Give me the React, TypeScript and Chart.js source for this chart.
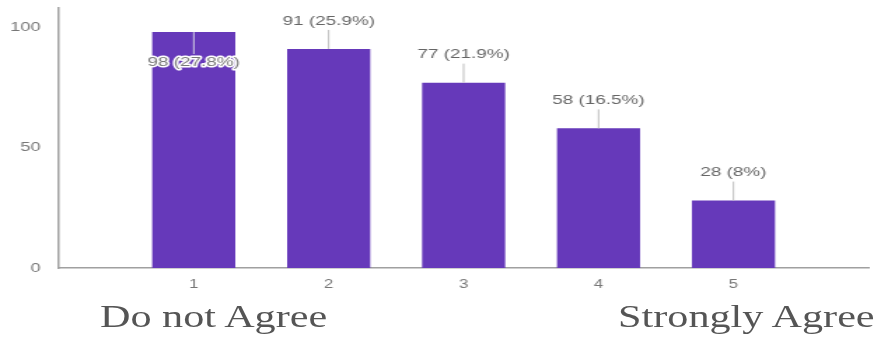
import React, { useEffect, useRef } from "react";
import { Chart, registerables } from "chart.js";

Chart.register(...registerables);

const categories = [1, 2, 3, 4, 5];
const counts = [98, 91, 77, 58, 28];
const percents = ["27.8", "25.9", "21.9", "16.5", "8"];
const yTicks = [0, 50, 100];
const leftLabel = "Do not Agree";
const rightLabel = "Strongly Agree";

const INTERNAL_W = 629;
const H = 341;

const labelPlugin = {
  id: "barLabels",
  afterDatasetsDraw(chart: any) {
    const ctx = chart.ctx;
    const meta = chart.getDatasetMeta(0);
    const area = chart.chartArea;
    ctx.save();
    ctx.font = "13.5px 'Liberation Sans', Arial, sans-serif";
    ctx.textAlign = "center";
    ctx.textBaseline = "middle";
    meta.data.forEach((el: any, i: number) => {
      const text = `${counts[i]} (${percents[i]}%)`;
      const x = el.x;
      const top = el.y;
      const inside = top - 36 < area.top;
      ctx.lineWidth = 1;
      if (inside) {
        ctx.strokeStyle = "rgba(220,220,230,0.9)";
        ctx.beginPath();
        ctx.moveTo(x, top);
        ctx.lineTo(x, top + 22);
        ctx.stroke();
        const ty = top + 30;
        ctx.lineWidth = 3;
        ctx.strokeStyle = "#ffffff";
        ctx.lineJoin = "round";
        ctx.strokeText(text, x, ty);
        ctx.fillStyle = "#7a7a7a";
        ctx.fillText(text, x, ty);
      } else {
        ctx.strokeStyle = "#bdbdbd";
        ctx.beginPath();
        ctx.moveTo(x, top - 19);
        ctx.lineTo(x, top);
        ctx.stroke();
        ctx.fillStyle = "#666666";
        ctx.fillText(text, x, top - 28);
      }
    });
    ctx.restore();
  },
};

export default function App() {
  const ref = useRef<HTMLCanvasElement>(null);

  useEffect(() => {
    document.body.style.margin = "0";
    const canvas = ref.current!;
    const chart = new Chart(canvas, {
      type: "bar",
      data: {
        datasets: [
          {
            data: categories.map((c, i) => ({ x: c, y: counts[i] })),
            backgroundColor: "#6639ba",
            borderWidth: 0,
            barPercentage: 0.616,
            categoryPercentage: 1,
          },
        ],
      },
      options: {
        responsive: false,
        devicePixelRatio: 1,
        animation: false,
        layout: { padding: { top: 8, right: 9, left: 0, bottom: 0 } },
        plugins: {
          legend: { display: false },
          tooltip: { enabled: false },
        },
        scales: {
          x: {
            type: "linear",
            offset: false,
            min: 0,
            max: 6,
            grid: { display: false, drawTicks: false, offset: false },
            border: { display: true, color: "#a0a0a0", width: 1.5 },
            ticks: {
              color: "#777777",
              font: { size: 12, family: "'Liberation Sans', Arial, sans-serif" },
              padding: 9,
            },
            afterBuildTicks: (scale: any) => {
              scale.ticks = categories.map((v) => ({ value: v }));
            },
            afterFit: (scale: any) => {
              scale.height = 73;
              scale.paddingLeft = 0;
              scale.paddingRight = 0;
            },
          },
          y: {
            min: 0,
            max: 108,
            grid: { display: false, drawTicks: false },
            border: { display: true, color: "#a0a0a0", width: 1.5 },
            ticks: {
              color: "#777777",
              font: { size: 13, family: "'Liberation Sans', Arial, sans-serif" },
              padding: 13,
            },
            afterBuildTicks: (scale: any) => {
              scale.ticks = yTicks.map((v) => ({ value: v }));
            },
            afterFit: (scale: any) => {
              scale.width = 42;
              scale.paddingTop = 0;
              scale.paddingBottom = 0;
            },
          },
        },
      } as any,
      plugins: [labelPlugin],
    });
    return () => chart.destroy();
  }, []);

  const textStyle: React.CSSProperties = {
    position: "absolute",
    top: 297,
    fontFamily: "'Liberation Serif', 'Times New Roman', serif",
    fontSize: 31,
    color: "#555555",
    whiteSpace: "nowrap",
    lineHeight: "40px",
  };

  return (
    <div
      style={{
        position: "fixed",
        left: 0,
        top: 0,
        width: 881,
        height: H,
        background: "#ffffff",
        overflow: "hidden",
      }}
    >
      <canvas
        ref={ref}
        width={INTERNAL_W}
        height={H}
        style={{ width: "881px", height: `${H}px`, display: "block" }}
      />
      <div
        style={{
          ...textStyle,
          left: 100,
          transform: "scaleX(1.36)",
          transformOrigin: "left center",
        }}
      >
        {leftLabel}
      </div>
      <div
        style={{
          ...textStyle,
          right: 6,
          transform: "scaleX(1.36)",
          transformOrigin: "right center",
        }}
      >
        {rightLabel}
      </div>
    </div>
  );
}
